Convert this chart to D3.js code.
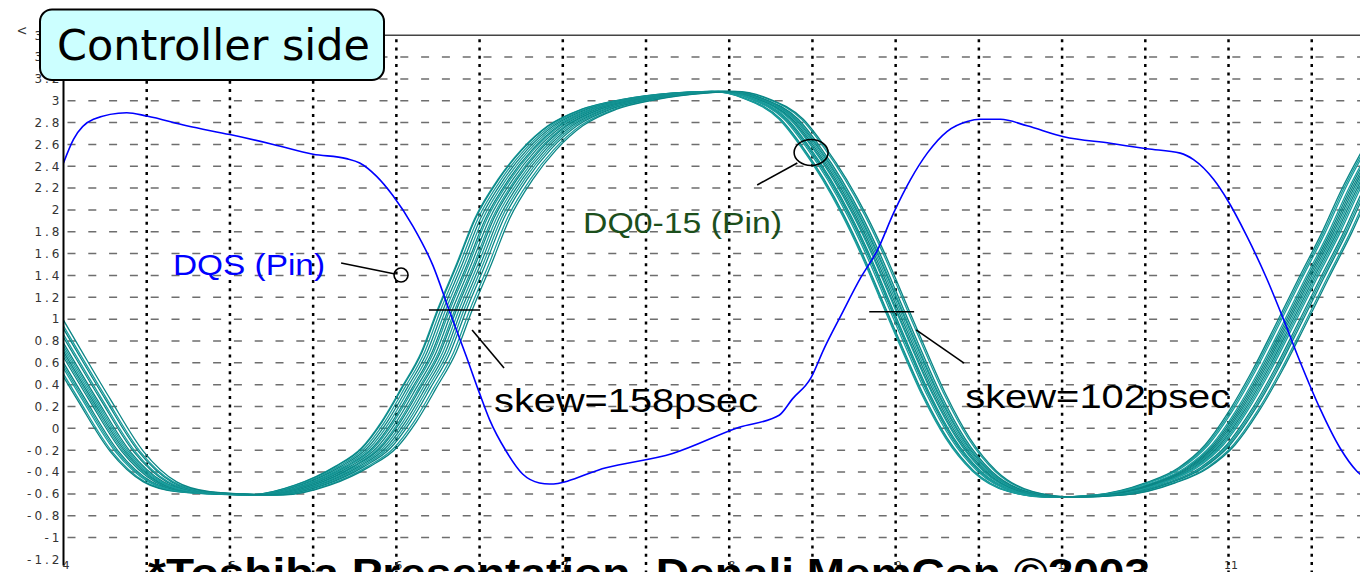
<!DOCTYPE html>
<html>
<head>
<meta charset="utf-8">
<script src="https://cdn.jsdelivr.net/npm/d3@7"></script>
<style>
  html, body { margin: 0; padding: 0; background: #fff; }
  svg { display: block; }
</style>
</head>
<body>
<svg width="1360" height="572"></svg>
<script>
// time in ns, voltage in V
var xTicks = [4, 5, 6, 7, 8, 9, 10, 11];
var xGrid = [4.5, 5, 5.5, 6, 6.5, 7, 7.5, 8, 8.5, 9, 9.5, 10, 10.5, 11, 11.5];
var yTicks = [-1.2, -1, -0.8, -0.6, -0.4, -0.2, 0, 0.2, 0.4, 0.6, 0.8, 1, 1.2, 1.4, 1.6,
              1.8, 2, 2.2, 2.4, 2.6, 2.8, 3, 3.2, 3.4, 3.6];
var yGrid = [-1, -0.8, -0.6, -0.4, -0.2, 0, 0.2, 0.4, 0.6, 0.8, 1, 1.2, 1.4, 1.6,
             1.8, 2, 2.2, 2.4, 2.6, 2.8, 3, 3.2, 3.4];

// DQS strobe at the pin
var dqsWave = [
  [4.0, 2.43], [4.06, 2.645], [4.18, 2.83], [4.38, 2.89], [4.50, 2.86], [4.74, 2.77],
  [5.0, 2.69], [5.26, 2.60], [5.50, 2.51], [5.70, 2.47], [5.78, 2.43], [5.88, 2.31],
  [5.98, 2.13], [6.10, 1.85], [6.22, 1.49], [6.32, 1.07], [6.42, 0.66], [6.50, 0.32],
  [6.56, 0.08], [6.66, -0.21], [6.76, -0.42], [6.86, -0.50], [6.92, -0.51], [7.26, -0.36],
  [7.66, -0.23], [8.06, 0.01], [8.30, 0.12], [8.38, 0.27], [8.49, 0.46], [8.57, 0.73],
  [8.67, 1.03], [8.79, 1.38], [8.89, 1.63], [8.99, 1.98], [9.09, 2.28], [9.19, 2.52],
  [9.31, 2.72], [9.43, 2.81], [9.51, 2.83], [9.63, 2.83], [9.79, 2.77], [10.01, 2.67],
  [10.29, 2.61], [10.51, 2.56], [10.71, 2.52], [10.79, 2.46], [10.91, 2.28], [10.99, 2.10],
  [11.11, 1.76], [11.23, 1.37], [11.33, 1.00], [11.43, 0.61], [11.55, 0.18], [11.67, -0.18],
  [11.77, -0.39], [11.85, -0.48]
];

// DQ bundle centre: [time, volt, edge index]
var dqWave = [
  [3.85, 1.12, 0], [4.0, 0.73, 0], [4.18, 0.27, 0], [4.38, -0.21, 0], [4.58, -0.49, 0],
  [4.78, -0.58, 0], [4.98, -0.60, 0],
  [5.22, -0.61, 1], [5.50, -0.52, 1], [5.74, -0.35, 1], [5.90, -0.18, 1], [6.02, 0.06, 1],
  [6.14, 0.37, 1], [6.26, 0.70, 1], [6.36, 1.10, 1], [6.47, 1.50, 1], [6.58, 1.92, 1],
  [6.72, 2.28, 1], [6.86, 2.55, 1], [7.02, 2.77, 1], [7.22, 2.92, 1], [7.46, 3.01, 1],
  [7.76, 3.07, 1],
  [7.96, 3.085, 2], [8.16, 3.02, 2], [8.37, 2.83, 2], [8.50, 2.58, 2], [8.63, 2.28, 2],
  [8.75, 1.95, 2], [8.86, 1.60, 2], [9.0, 1.10, 2], [9.09, 0.78, 2], [9.23, 0.30, 2],
  [9.37, -0.09, 2], [9.53, -0.39, 2], [9.75, -0.58, 2], [9.99, -0.63, 2],
  [10.29, -0.61, 3], [10.59, -0.50, 3], [10.79, -0.36, 3], [10.95, -0.15, 3], [11.09, 0.15, 3],
  [11.23, 0.52, 3], [11.37, 0.94, 3], [11.51, 1.37, 3], [11.65, 1.79, 3], [11.77, 2.19, 3],
  [11.92, 2.62, 3]
];

// per-bit timing offset (ns) on each edge, DQ0..DQ15
var skewEdge0 = [-0.09, -0.10, -0.07, -0.05, -0.06, -0.03, -0.02, -0.01, 0.0, 0.02, 0.01, 0.04, 0.05, 0.07, 0.08, 0.10];
var skewEdge1 = [-0.11, -0.105, -0.09, -0.075, -0.06, -0.045, -0.035, -0.02, -0.005, 0.005, 0.02, 0.035, 0.05, 0.065, 0.085, 0.10];
var skewEdge2 = [-0.07, -0.06, -0.065, -0.03, -0.04, -0.02, -0.025, 0.0, -0.005, 0.01, 0.02, 0.03, 0.035, 0.045, 0.065, 0.075];
var skewEdge3 = [-0.08, -0.09, -0.07, -0.04, -0.05, -0.03, -0.01, 0.0, 0.01, -0.02, 0.02, 0.04, 0.05, 0.06, 0.08, 0.09];

var svg = d3.select("svg");

var x = d3.scaleLinear().domain([4, 11.79]).range([63.5, 1360]);
var y = d3.scaleLinear().domain([-1.2, 3.6]).range([559.4, 35.2]);

svg.append("defs").append("clipPath").attr("id", "plot")
  .append("rect")
    .attr("x", x(4)).attr("y", y(3.6))
    .attr("width", 1360 - x(4)).attr("height", 572 - y(3.6));

// grid
svg.append("g").selectAll("line")
  .data(yGrid)
  .enter().append("line")
    .attr("x1", x(4) + 4).attr("x2", 1360)
    .attr("y1", function(d) { return y(d); })
    .attr("y2", function(d) { return y(d); })
    .attr("stroke", "#6e6e6e")
    .attr("stroke-width", 1.5)
    .attr("stroke-dasharray", "8,12.8");

svg.append("g").selectAll("line")
  .data(xGrid)
  .enter().append("line")
    .attr("x1", function(d) { return x(d); })
    .attr("x2", function(d) { return x(d); })
    .attr("y1", y(3.6) + 4).attr("y2", 572)
    .attr("stroke", "#000")
    .attr("stroke-width", 2.5)
    .attr("stroke-dasharray", "3,5.3");

var line = d3.line()
    .x(function(d) { return x(d[0]); })
    .y(function(d) { return y(d[1]); })
    .curve(d3.curveMonotoneX);

var skews = [skewEdge0, skewEdge1, skewEdge2, skewEdge3];
var dqLines = skewEdge0.map(function(_, i) {
  return dqWave.map(function(p) { return [p[0] + skews[p[2]][i], p[1]]; });
});

var plot = svg.append("g").attr("clip-path", "url(#plot)");

plot.selectAll(".dq")
  .data(dqLines)
  .enter().append("path")
    .attr("class", "dq")
    .attr("d", line)
    .attr("fill", "none")
    .attr("stroke", function(d, i) { return i % 2 ? "#0a8585" : "#1a9d9d"; })
    .attr("stroke-width", 1.3);

plot.append("path")
    .datum(dqsWave)
    .attr("d", line)
    .attr("fill", "none")
    .attr("stroke", "#0000ff")
    .attr("stroke-width", 1.6);

// axes
var yAxis = svg.append("g")
    .attr("transform", "translate(" + (x(4) + 1) + ",0)")
    .call(d3.axisLeft(y).tickValues(yTicks).tickSize(0).tickPadding(2)
      .tickFormat(function(d) { return String(Math.round(d * 10) / 10); }));
yAxis.select(".domain").remove();
yAxis.selectAll("text")
    .style("font", "12px 'DejaVu Sans', sans-serif")
    .style("letter-spacing", "3px")
    .attr("fill", "#333");

var xAxis = svg.append("g")
    .attr("transform", "translate(2," + y(-1.2) + ")")
    .call(d3.axisBottom(x).tickValues(xTicks).tickSize(0).tickPadding(2)
      .tickFormat(d3.format("d")));
xAxis.select(".domain").remove();
xAxis.selectAll("text")
    .style("font", "11px 'DejaVu Sans', sans-serif")
    .attr("fill", "#333");

svg.append("line")
    .attr("x1", x(4)).attr("x2", x(4))
    .attr("y1", y(3.6)).attr("y2", y(-1.2) + 6)
    .attr("stroke", "#000").attr("stroke-width", 2);

svg.append("line")
    .attr("x1", x(4)).attr("x2", 1360)
    .attr("y1", y(3.6)).attr("y2", y(3.6))
    .attr("stroke", "#444").attr("stroke-width", 1.5);

svg.append("text")
    .attr("transform", "translate(" + 18 + "," + 27 + ") rotate(90)")
    .style("font", "11px 'DejaVu Sans', sans-serif")
    .attr("fill", "#333")
    .text("V");

// annotations
var ann = svg.append("g").attr("fill", "none").attr("stroke", "#000").attr("stroke-width", 1.6);

ann.append("line")
    .attr("x1", x(5.668)).attr("y1", y(1.514))
    .attr("x2", x(5.992)).attr("y2", y(1.414));
ann.append("circle")
    .attr("cx", x(6.028)).attr("cy", y(1.404)).attr("r", 7);

ann.append("line")
    .attr("x1", x(8.168)).attr("y1", y(2.229))
    .attr("x2", x(8.409)).attr("y2", y(2.43));
ann.append("ellipse")
    .attr("cx", x(8.492)).attr("cy", y(2.526)).attr("rx", 17).attr("ry", 13);

ann.append("line")
    .attr("x1", x(6.196)).attr("x2", x(6.503))
    .attr("y1", y(1.084)).attr("y2", y(1.084));
ann.append("line")
    .attr("x1", x(6.455)).attr("y1", y(0.901))
    .attr("x2", x(6.647)).attr("y2", y(0.553));

ann.append("line")
    .attr("x1", x(8.841)).attr("x2", x(9.111))
    .attr("y1", y(1.068)).attr("y2", y(1.068));
ann.append("line")
    .attr("x1", x(9.123)).attr("y1", y(0.901))
    .attr("x2", x(9.411)).attr("y2", y(0.598));

function label(t, v, txt, size, len, color) {
  svg.append("text")
      .attr("x", x(t)).attr("y", y(v))
      .attr("textLength", len)
      .attr("lengthAdjust", "spacingAndGlyphs")
      .style("font", size + "px 'Liberation Sans', Arial, sans-serif")
      .attr("fill", color)
      .text(txt);
}
label(4.658, 1.404, "DQS (Pin)", 30, 152, "#0000ff");
label(7.122, 1.789, "DQ0-15 (Pin)", 30, 199, "#1c4f1c");
label(6.587, 0.150, "skew=158psec", 34, 264, "#000");
label(9.418, 0.190, "skew=102psec", 34, 265, "#000");

// title box
svg.append("rect")
    .attr("x", 40).attr("y", 9.5)
    .attr("width", 344).attr("height", 70.5)
    .attr("rx", 12)
    .attr("fill", "#ccffff")
    .attr("stroke", "#000")
    .attr("stroke-width", 2);
svg.append("text")
    .attr("x", 57).attr("y", 60)
    .attr("textLength", 313)
    .attr("lengthAdjust", "spacingAndGlyphs")
    .style("font", "42px 'Comic Sans MS', 'DejaVu Sans', sans-serif")
    .attr("fill", "#000")
    .text("Controller side");

// footer, cut off by the page edge
svg.append("text")
    .attr("x", 148).attr("y", 587)
    .attr("textLength", 1002)
    .attr("lengthAdjust", "spacingAndGlyphs")
    .style("font", "bold 40px 'Liberation Sans', Arial, sans-serif")
    .attr("fill", "#000")
    .text("*Toshiba Presentation, Denali MemCon ©2003");
</script>
</body>
</html>
